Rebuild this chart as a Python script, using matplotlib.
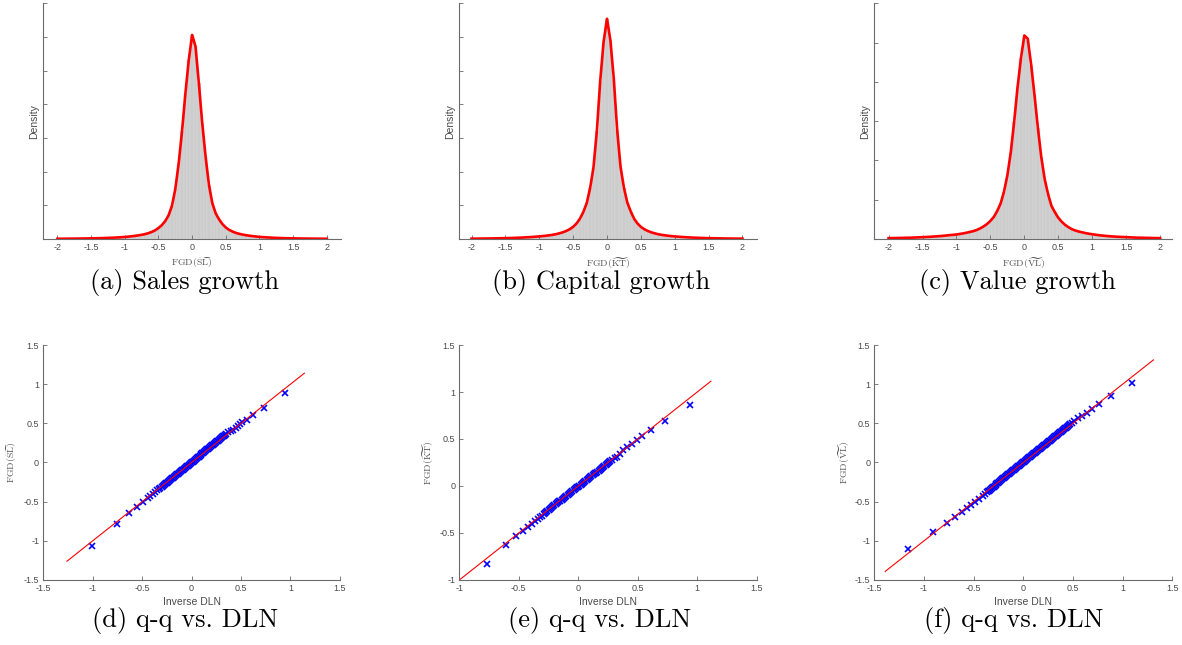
import numpy as np
import matplotlib
matplotlib.use('Agg')
import matplotlib.pyplot as plt
from matplotlib.ticker import FormatStrFormatter

plt.rcParams['mathtext.fontset'] = 'cm'
plt.rcParams['axes.unicode_minus'] = False
plt.rcParams['font.family'] = ['Liberation Sans', 'DejaVu Sans']

# ---- histogram / fitted density data, bins of width 0.05 on [-2, 2] ----
bins = np.round(np.linspace(-2.0, 2.0, 81), 2)

sales_dens = [0.003, 0.0035, 0.004, 0.0045, 0.005, 0.0055, 0.006, 0.0065, 0.007, 0.008,
              0.009, 0.010, 0.011, 0.012, 0.014, 0.016, 0.018, 0.020, 0.023, 0.026,
              0.030, 0.034, 0.040, 0.046, 0.053, 0.062, 0.072, 0.086, 0.104, 0.128,
              0.162, 0.205, 0.265, 0.35, 0.49, 0.74, 1.12, 1.60, 2.16, 2.66,
              3.03,
              2.86, 2.31, 1.72, 1.22, 0.80, 0.53, 0.38, 0.29, 0.22, 0.17,
              0.135, 0.11, 0.09, 0.076, 0.065, 0.056, 0.048, 0.042, 0.036, 0.031,
              0.027, 0.024, 0.021, 0.018, 0.016, 0.014, 0.012, 0.011, 0.010, 0.009,
              0.008, 0.007, 0.0065, 0.006, 0.0055, 0.005, 0.0045, 0.004, 0.0035, 0.003]

capital_dens = [0.0045, 0.005, 0.0055, 0.006, 0.0065, 0.007, 0.008, 0.009, 0.010, 0.011,
                0.012, 0.0135, 0.015, 0.017, 0.019, 0.021, 0.024, 0.027, 0.030, 0.034,
                0.038, 0.043, 0.048, 0.055, 0.062, 0.072, 0.085, 0.10, 0.12, 0.145,
                0.18, 0.23, 0.30, 0.40, 0.53, 0.75, 1.06, 1.60, 2.35, 2.93,
                3.27,
                2.95, 2.38, 1.62, 1.07, 0.76, 0.54, 0.41, 0.30, 0.23, 0.18,
                0.145, 0.12, 0.10, 0.085, 0.072, 0.062, 0.055, 0.048, 0.043, 0.038,
                0.034, 0.030, 0.027, 0.024, 0.021, 0.019, 0.017, 0.015, 0.0135, 0.012,
                0.011, 0.010, 0.009, 0.008, 0.007, 0.0065, 0.006, 0.0055, 0.005, 0.0045]

value_dens = [0.010, 0.011, 0.012, 0.013, 0.014, 0.015, 0.016, 0.017, 0.019, 0.021,
              0.023, 0.025, 0.027, 0.030, 0.033, 0.036, 0.040, 0.044, 0.049, 0.053,
              0.057, 0.064, 0.071, 0.080, 0.090, 0.100, 0.115, 0.135, 0.16, 0.19,
              0.23, 0.28, 0.355, 0.45, 0.60, 0.81, 1.10, 1.49, 1.93, 2.30,
              2.59,
              2.55, 2.22, 1.83, 1.41, 1.04, 0.76, 0.57, 0.42, 0.34, 0.27,
              0.22, 0.18, 0.15, 0.125, 0.108, 0.095, 0.085, 0.075, 0.067, 0.060,
              0.054, 0.048, 0.043, 0.039, 0.035, 0.032, 0.029, 0.027, 0.025, 0.023,
              0.021, 0.019, 0.017, 0.016, 0.015, 0.014, 0.013, 0.012, 0.011, 0.010]

# ---- q-q points (inverse DLN quantile, FGD quantile) ----
sl_qx = [-1.011, -0.758, -0.634, -0.553, -0.496, -0.445, -0.418, -0.392, -0.371, -0.350, -0.331, -0.315,
         -0.30, -0.29, -0.28, -0.27, -0.26, -0.25, -0.24, -0.23, -0.22, -0.21, -0.20,
         -0.19, -0.18, -0.17, -0.16, -0.15, -0.14, -0.13, -0.12, -0.11, -0.10,
         -0.09, -0.08, -0.07, -0.06, -0.05, -0.04, -0.03, -0.02, -0.01, 0.00,
         0.01, 0.02, 0.03, 0.04, 0.05, 0.06, 0.07, 0.08, 0.09, 0.10,
         0.11, 0.12, 0.13, 0.14, 0.15, 0.16, 0.17, 0.18, 0.19, 0.20,
         0.21, 0.22, 0.23, 0.24, 0.25, 0.26, 0.27, 0.28, 0.29, 0.30,
         0.31, 0.32, 0.33, 0.34, 0.35,
         0.370, 0.395, 0.420, 0.445, 0.468, 0.490, 0.512, 0.556, 0.623, 0.731, 0.940]
sl_qy = [-1.063, -0.789, -0.649, -0.568, -0.504, -0.449, -0.424, -0.398, -0.377, -0.356, -0.338, -0.321,
         -0.307, -0.297, -0.286, -0.276, -0.266, -0.256, -0.245, -0.235, -0.225, -0.214, -0.204,
         -0.194, -0.183, -0.173, -0.163, -0.153, -0.142, -0.132, -0.122, -0.111, -0.101,
         -0.091, -0.080, -0.070, -0.060, -0.050, -0.039, -0.029, -0.019, -0.008, 0.002,
         0.012, 0.023, 0.033, 0.043, 0.054, 0.064, 0.074, 0.084, 0.095, 0.105,
         0.115, 0.126, 0.136, 0.146, 0.157, 0.167, 0.177, 0.187, 0.198, 0.208,
         0.218, 0.229, 0.239, 0.249, 0.260, 0.270, 0.280, 0.290, 0.301, 0.311,
         0.321, 0.332, 0.342, 0.352, 0.363,
         0.385, 0.405, 0.420, 0.442, 0.466, 0.488, 0.513, 0.543, 0.611, 0.700, 0.892]

kt_qx = [-0.770, -0.605, -0.521, -0.464, -0.420, -0.390, -0.363, -0.340, -0.321, -0.305,
         -0.29, -0.28, -0.27, -0.26, -0.25, -0.24, -0.23, -0.22, -0.21, -0.20,
         -0.19, -0.18, -0.17, -0.16, -0.15, -0.14, -0.13, -0.12, -0.11, -0.10,
         -0.09, -0.08, -0.07, -0.06, -0.05, -0.04, -0.03, -0.02, -0.01, 0.00,
         0.01, 0.02, 0.03, 0.04, 0.05, 0.06, 0.07, 0.08, 0.09, 0.10,
         0.11, 0.12, 0.13, 0.14, 0.15, 0.16, 0.17, 0.18, 0.19, 0.20,
         0.21, 0.22, 0.23, 0.24, 0.25, 0.26, 0.27,
         0.285, 0.305, 0.324, 0.350, 0.380, 0.413, 0.450, 0.490, 0.534, 0.612, 0.727, 0.940]
kt_qy = [-0.826, -0.631, -0.535, -0.474, -0.431, -0.400, -0.374, -0.350, -0.332, -0.314,
         -0.293, -0.283, -0.273, -0.263, -0.254, -0.244, -0.234, -0.224, -0.214, -0.204,
         -0.194, -0.184, -0.174, -0.164, -0.155, -0.145, -0.135, -0.125, -0.115, -0.105,
         -0.095, -0.085, -0.075, -0.065, -0.056, -0.046, -0.036, -0.026, -0.016, -0.006,
         0.004, 0.014, 0.024, 0.034, 0.044, 0.053, 0.063, 0.073, 0.083, 0.093,
         0.103, 0.113, 0.123, 0.133, 0.143, 0.152, 0.162, 0.172, 0.182, 0.192,
         0.202, 0.212, 0.222, 0.232, 0.242, 0.251, 0.261,
         0.275, 0.294, 0.310, 0.345, 0.378, 0.413, 0.452, 0.488, 0.531, 0.600, 0.693, 0.866]

vl_qx = [-1.158, -0.906, -0.772, -0.685, -0.620, -0.570, -0.527, -0.486, -0.443, -0.403, -0.385,
         -0.37, -0.36, -0.35, -0.34, -0.33, -0.32, -0.31,
         -0.30, -0.29, -0.28, -0.27, -0.26, -0.25, -0.24, -0.23, -0.22, -0.21, -0.20,
         -0.19, -0.18, -0.17, -0.16, -0.15, -0.14, -0.13, -0.12, -0.11, -0.10,
         -0.09, -0.08, -0.07, -0.06, -0.05, -0.04, -0.03, -0.02, -0.01, 0.00,
         0.01, 0.02, 0.03, 0.04, 0.05, 0.06, 0.07, 0.08, 0.09, 0.10,
         0.11, 0.12, 0.13, 0.14, 0.15, 0.16, 0.17, 0.18, 0.19, 0.20,
         0.21, 0.22, 0.23, 0.24, 0.25, 0.26, 0.27, 0.28, 0.29, 0.30,
         0.31, 0.32, 0.33, 0.34, 0.35, 0.36, 0.37, 0.38, 0.39, 0.40,
         0.41, 0.42, 0.43, 0.44, 0.45, 0.46, 0.47,
         0.490, 0.514, 0.550, 0.588, 0.638, 0.689, 0.766, 0.880, 1.098]
vl_qy = [-1.109, -0.888, -0.768, -0.692, -0.628, -0.577, -0.543, -0.500, -0.462, -0.428, -0.405,
         -0.379, -0.369, -0.359, -0.348, -0.338, -0.328, -0.317,
         -0.307, -0.297, -0.286, -0.276, -0.266, -0.256, -0.245, -0.235, -0.225, -0.214, -0.204,
         -0.194, -0.183, -0.173, -0.163, -0.153, -0.142, -0.132, -0.122, -0.111, -0.101,
         -0.091, -0.080, -0.070, -0.060, -0.050, -0.039, -0.029, -0.019, -0.008, 0.002,
         0.012, 0.023, 0.033, 0.043, 0.054, 0.064, 0.074, 0.084, 0.095, 0.105,
         0.115, 0.126, 0.136, 0.146, 0.157, 0.167, 0.177, 0.187, 0.198, 0.208,
         0.218, 0.229, 0.239, 0.249, 0.260, 0.270, 0.280, 0.290, 0.301, 0.311,
         0.321, 0.332, 0.342, 0.352, 0.363, 0.373, 0.383, 0.393, 0.404, 0.414,
         0.424, 0.435, 0.445, 0.455, 0.466, 0.476, 0.486,
         0.506, 0.530, 0.562, 0.598, 0.636, 0.679, 0.751, 0.849, 1.011]

# reference lines (start, end) on y = x
sl_line = [-1.26, 1.14]
kt_line = [-1.05, 1.115]
vl_line = [-1.39, 1.31]

hist_names = [r'$\mathrm{FGD}(\widetilde{\mathrm{SL}})$', r'$\mathrm{FGD}(\widetilde{\mathrm{KT}})$',
              r'$\mathrm{FGD}(\widetilde{\mathrm{VL}})$']
top_captions = ['(a) Sales growth', '(b) Capital growth', '(c) Value growth']
bot_captions = ['(d) q-q vs. DLN', '(e) q-q vs. DLN', '(f) q-q vs. DLN']

axcol = '#6b6b6b'
txtcol = '#4a4a4a'


def matlab_axes(ax):
    # box off, ticks pointing in like matlab
    ax.spines['top'].set_visible(False)
    ax.spines['right'].set_visible(False)
    for s in ['left', 'bottom']:
        ax.spines[s].set_color(axcol)
        ax.spines[s].set_linewidth(0.8)
    ax.tick_params(direction='in', length=3, width=0.6, color=axcol,
                   labelcolor=txtcol, labelsize=6.5, pad=3.0)
    ax.xaxis.set_major_formatter(FormatStrFormatter('%g'))
    ax.yaxis.set_major_formatter(FormatStrFormatter('%g'))


fig = plt.figure(figsize=(11.82, 6.45), dpi=100)

# ---- top row: histograms ----
top_pos = [[0.0366, 0.6295, 0.2519, 0.3654],
           [0.3886, 0.6295, 0.2516, 0.3654],
           [0.7397, 0.6295, 0.2521, 0.3654]]
dens_all = [sales_dens, capital_dens, value_dens]
xlims = [(-2.21, 2.21), (-2.18, 2.21), (-2.21, 2.18)]
ytops = [3.5, 3.5, 3.0]

for i in range(3):
    ax = fig.add_axes(top_pos[i])
    ax.bar(bins, dens_all[i], width=0.05, color='#cccccc', edgecolor='#dcdcdc', linewidth=0.3)
    ax.plot(bins, dens_all[i], color='red', linewidth=1.9)
    ax.set_xlim(xlims[i])
    ax.set_ylim(0, ytops[i])
    matlab_axes(ax)
    ax.set_xticks(np.arange(-2, 2.01, 0.5))
    ax.set_yticks(np.arange(0, ytops[i] + 0.01, 0.5))
    ax.set_yticklabels([])
    ax.set_xlabel(hist_names[i], fontsize=7, color='#555555')
    ax.xaxis.set_label_coords(0.5, -0.070)
    ax.set_ylabel('Density', fontsize=7.5, color=txtcol)
    ax.yaxis.set_label_coords(-0.015, 0.5)

# ---- bottom row: q-q plots ----
bot_pos = [[0.0366, 0.1008, 0.2510, 0.3643],
           [0.3886, 0.1008, 0.2516, 0.3643],
           [0.7397, 0.1008, 0.2521, 0.3643]]
qx_all = [sl_qx, kt_qx, vl_qx]
qy_all = [sl_qy, kt_qy, vl_qy]
lines = [sl_line, kt_line, vl_line]
qlims = [(-1.5, 1.5), (-1.0, 1.5), (-1.5, 1.5)]
ylab_x = [-0.083, -0.078, -0.076]

for i in range(3):
    ax = fig.add_axes(bot_pos[i])
    ax.plot(qx_all[i], qy_all[i], linestyle='none', marker='x', color='blue',
            markersize=5, markeredgewidth=1.2)
    ax.plot(lines[i], lines[i], color='red', linewidth=0.8)
    lo, hi = qlims[i]
    ax.set_xlim(lo, hi)
    ax.set_ylim(lo, hi)
    matlab_axes(ax)
    ax.set_xticks(np.arange(lo, hi + 0.01, 0.5))
    ax.set_yticks(np.arange(lo, hi + 0.01, 0.5))
    ax.set_xlabel('Inverse DLN', fontsize=7.5, color=txtcol)
    ax.xaxis.set_label_coords(0.5, -0.072)
    ax.set_ylabel(hist_names[i], fontsize=7, color='#555555')
    ax.yaxis.set_label_coords(ylab_x[i], 0.5)

# subfigure captions (latex style)
W, H = 1182.0, 645.0
top_cx = [185, 601, 1017.5]
bot_cx = [185, 600, 1014]
for i in range(3):
    fig.text(top_cx[i] / W, 1 - 283 / H, top_captions[i], ha='center', va='center',
             fontsize=19, family='cmr10')
    fig.text(bot_cx[i] / W, 1 - 620 / H, bot_captions[i], ha='center', va='center',
             fontsize=19, family='cmr10')

fig.savefig('out.png', dpi=100)
